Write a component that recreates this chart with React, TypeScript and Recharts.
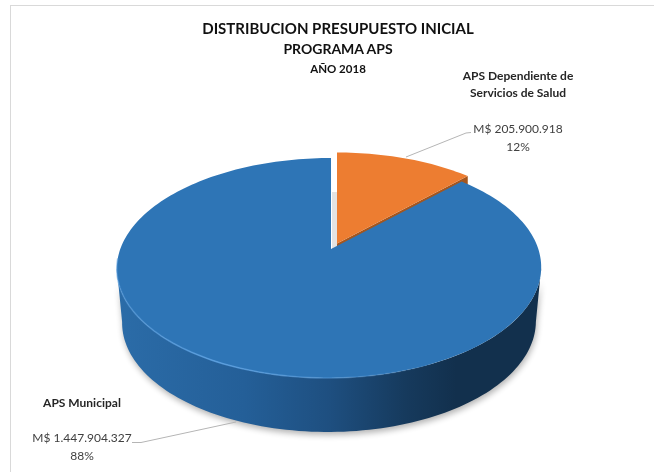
import { PieChart, Pie } from "recharts";

const categories = ["APS Dependiente de Servicios de Salud", "APS Municipal"];
const amounts = [205900918, 1447904327];
const colors = ["#ED7D31", "#2E75B6"];
const titleLines = ["DISTRIBUCION PRESUPUESTO INICIAL", "PROGRAMA APS", "AÑO 2018"];

const data = categories.map((name, i) => ({ name, value: amounts[i], fill: colors[i] }));

const FONT = "Lato, sans-serif";
const CX = 331;
const CY = 249;
const R = 209;
// perspective of the tilted disc
const TILT = 0.1727;
const SQUASH = 106.7;
const DEPTH = 54;
const LEAN = 1.71;

const project = (u: number, v: number, ox = 0, oy = 0) => {
  const w = 1 + TILT * v;
  return [CX + ox + (R * u) / w - LEAN * (1 - v), CY + oy - (SQUASH * v) / w];
};

const toLine = (pts: number[][]) =>
  pts.map((p, i) => `${i ? "L" : "M"}${p[0].toFixed(2)} ${p[1].toFixed(2)}`).join("");

const toPath = (pts: number[][]) => toLine(pts) + "Z";

const arc = (from: number, to: number, ox = 0, oy = 0) => {
  const n = Math.max(2, Math.ceil(Math.abs(to - from) / 1.5));
  const pts: number[][] = [];
  for (let i = 0; i <= n; i++) {
    const a = ((from + ((to - from) * i) / n) * Math.PI) / 180;
    pts.push(project(Math.cos(a), Math.sin(a), ox, oy));
  }
  return pts;
};

const PieSlice = (props: any) => {
  const { name, fill, startAngle, endAngle } = props;
  if (name === categories[0]) {
    const ox = 6;
    const oy = -5.5;
    const rim = arc(startAngle, endAngle, ox, oy);
    const apex = [CX + ox, CY + oy];
    const end = rim[rim.length - 1];
    return (
      <g>
        <rect x={CX + 1} y={CY - 57} width={ox - 1} height={57} fill="#e3e3e3" />
        <path d={toPath([apex, end, [end[0], end[1] + DEPTH], [apex[0], apex[1] + DEPTH]])} fill="#A4561E" />
        <path d={toPath([apex, ...rim])} fill={fill} />
      </g>
    );
  }
  // lower part of the rim, between the two silhouette points
  const edge = (Math.asin(TILT) * 180) / Math.PI;
  const lower = arc(180 + edge, 360 - edge);
  const base = lower.map((p) => [CX - 2 + (p[0] - CX + 2) * 0.975, p[1] + DEPTH]);
  const wall = toPath([...lower, ...base.reverse()]);
  const rim = arc(startAngle, endAngle);
  return (
    <g>
      <path d={wall} fill="#000" opacity={0.3} filter="url(#pieShadow)" transform="translate(1 3)" />
      <path d={wall} fill="url(#wallShade)" />
      <path d={toPath([[CX, CY], ...rim])} fill={fill} />
      <path d={toLine(arc(185, 305))} fill="none" stroke="url(#rimLight)" strokeWidth={1.6} />
    </g>
  );
};

const labelPlaces = [
  { x: 518, nameY: [80, 97], valueY: [133, 151], line: "M471 132.5L466 133L406 157" },
  { x: 82, nameY: [406.5], valueY: [442, 460], line: "M132 442.5L141 442.5L236 422" },
];
const nameLines = [["APS Dependiente de", "Servicios de Salud"], ["APS Municipal"]];

const formatAmount = (v: number) => "M$ " + v.toString().replace(/\B(?=(\d{3})+$)/g, ".");

const SliceLabel = (props: any) => {
  const i = categories.indexOf(props.name);
  const place = labelPlaces[i];
  return (
    <g fontFamily={FONT} textAnchor="middle">
      <path d={place.line} fill="none" stroke="#b5b5b5" strokeWidth={1} />
      {nameLines[i].map((t, k) => (
        <text key={t} x={place.x} y={place.nameY[k]} fontSize={12} fontWeight={700} fill="#262626">
          {t}
        </text>
      ))}
      <text x={place.x} y={place.valueY[0]} fontSize={12} fill="#404040">
        {formatAmount(props.value)}
      </text>
      <text x={place.x} y={place.valueY[1]} fontSize={12} fill="#404040">
        {Math.round(props.percent * 100)}%
      </text>
    </g>
  );
};

export default function App() {
  return (
    <div style={{ position: "absolute", left: 0, top: 0, width: 654, height: 472, background: "#fff", overflow: "hidden" }}>
      <div style={{ position: "absolute", left: 10, top: 5, right: 0, bottom: 0, borderLeft: "1px solid #d9d9d9", borderTop: "1px solid #d9d9d9" }} />
      <PieChart width={654} height={472} style={{ position: "absolute", left: 0, top: 0, filter: "blur(0.4px)" }}>
        <defs>
          <linearGradient id="wallShade" x1="0" y1="0" x2="1" y2="0">
            <stop offset="0" stopColor="#2B6CA8" />
            <stop offset="0.3" stopColor="#245F98" />
            <stop offset="0.5" stopColor="#1E4F80" />
            <stop offset="0.68" stopColor="#163A5D" />
            <stop offset="0.8" stopColor="#12304D" />
            <stop offset="1" stopColor="#12304D" />
          </linearGradient>
          <linearGradient id="rimLight" gradientUnits="userSpaceOnUse" x1="120" y1="0" x2="440" y2="0">
            <stop offset="0" stopColor="#5A9FE0" stopOpacity={0.5} />
            <stop offset="0.3" stopColor="#5A9FE0" stopOpacity={0.9} />
            <stop offset="0.75" stopColor="#5A9FE0" stopOpacity={0.35} />
            <stop offset="1" stopColor="#5A9FE0" stopOpacity={0} />
          </linearGradient>
          <filter id="pieShadow" x="-5%" y="-10%" width="110%" height="120%">
            <feGaussianBlur stdDeviation="3" />
          </filter>
        </defs>
        <text x={338} y={34} textAnchor="middle" fontFamily={FONT} fontWeight={700} fontSize={15} fill="#111">
          {titleLines[0]}
        </text>
        <text x={338} y={53.5} textAnchor="middle" fontFamily={FONT} fontWeight={700} fontSize={14} fill="#111">
          {titleLines[1]}
        </text>
        <text x={338} y={73} textAnchor="middle" fontFamily={FONT} fontWeight={700} fontSize={11.5} fill="#111">
          {titleLines[2]}
        </text>
        <Pie
          data={data}
          dataKey="value"
          nameKey="name"
          cx={CX}
          cy={CY}
          outerRadius={R}
          startAngle={90}
          endAngle={-270}
          stroke="none"
          shape={PieSlice}
          label={SliceLabel}
          labelLine={false}
          isAnimationActive={false}
        />
      </PieChart>
    </div>
  );
}
